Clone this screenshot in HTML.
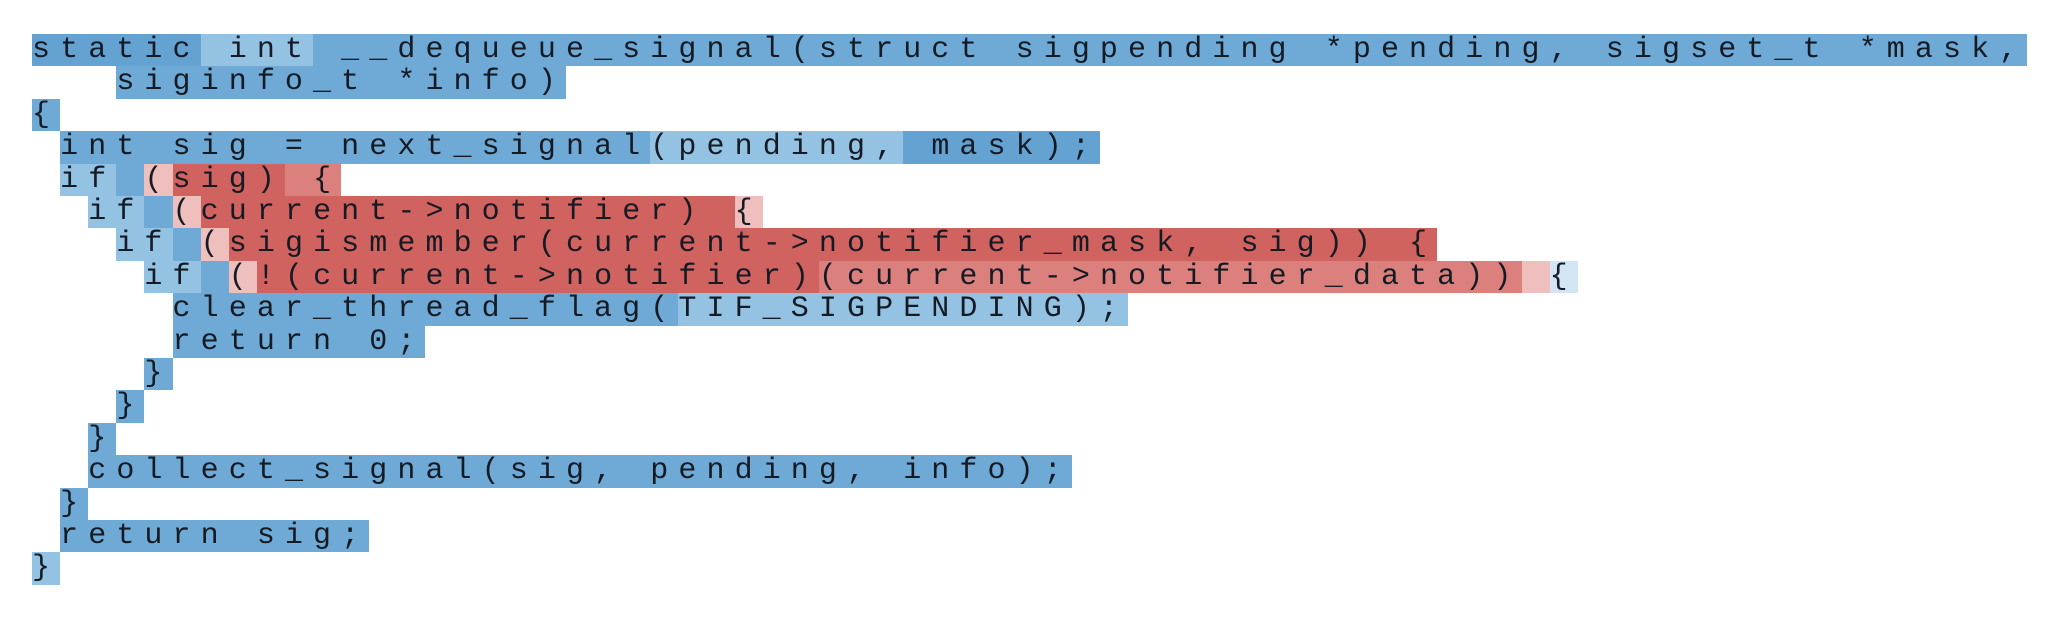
<!DOCTYPE html>
<html><head><meta charset="utf-8"><style>
html,body{margin:0;padding:0;background:#fff;width:2072px;height:620px;overflow:hidden}
.r{position:absolute;left:32px;height:32.4px;line-height:32.4px;white-space:pre;font-family:"Liberation Mono",monospace;font-size:30px;letter-spacing:10.1px;color:#151b24}
.r span{display:inline-block;height:32.4px}
.b1{background:#6fa9d5}.b2{background:#64a2d2}.b3{background:#94c2e3}.b4{background:#d3e5f2}
.r1{background:#d0625f}.r2{background:#dc807d}.p{background:#efbfbe}
</style></head><body>
<div class="r" style="top:34px"><span class="b2">static</span><span class="b3"> int</span><span class="b1"> __dequeue_signal(struct sigpending *pending, sigset_t *mask,</span></div>
<div class="r" style="top:66.4px">   <span class="b1">siginfo_t *info)</span></div>
<div class="r" style="top:98.8px"><span class="b1">{</span></div>
<div class="r" style="top:131.2px"> <span class="b1">int sig = next_signal</span><span class="b3">(pending,</span><span class="b2"> mask);</span></div>
<div class="r" style="top:163.6px"> <span class="b3">if</span><span class="b1"> </span><span class="p">(</span><span class="r1">sig)</span><span class="r2"> {</span></div>
<div class="r" style="top:196px">  <span class="b3">if</span><span class="b1"> </span><span class="p">(</span><span class="r1">current-&gt;notifier) </span><span class="p">{</span></div>
<div class="r" style="top:228.4px">   <span class="b3">if</span><span class="b1"> </span><span class="p">(</span><span class="r1">sigismember(current-&gt;notifier_mask, sig)) {</span></div>
<div class="r" style="top:260.8px">    <span class="b3">if</span><span class="b1"> </span><span class="p">(</span><span class="r1">!(current-&gt;notifier)</span><span class="r2">(current-&gt;notifier_data))</span><span class="p"> </span><span class="b4">{</span></div>
<div class="r" style="top:293.2px">     <span class="b1">clear_thread_flag(</span><span class="b3">TIF_SIGPENDING);</span></div>
<div class="r" style="top:325.6px">     <span class="b1">return 0;</span></div>
<div class="r" style="top:358px">    <span class="b1">}</span></div>
<div class="r" style="top:390.4px">   <span class="b1">}</span></div>
<div class="r" style="top:422.8px">  <span class="b1">}</span></div>
<div class="r" style="top:455.2px">  <span class="b1">collect_signal(sig, pending, info);</span></div>
<div class="r" style="top:487.6px"> <span class="b1">}</span></div>
<div class="r" style="top:520px"> <span class="b1">return sig;</span></div>
<div class="r" style="top:552.4px"><span class="b3">}</span></div>
</body></html>
